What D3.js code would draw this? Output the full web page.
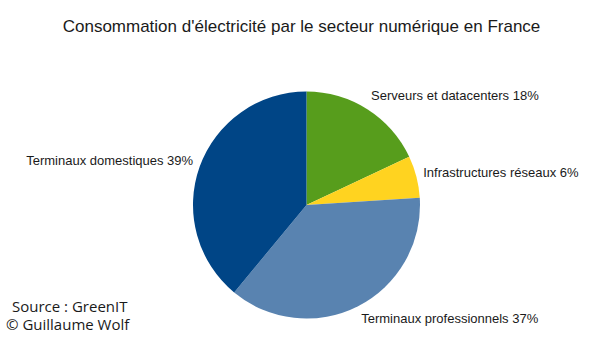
<!DOCTYPE html>
<html>
<head>
<meta charset="utf-8">
<script src="https://cdn.jsdelivr.net/npm/d3@7"></script>
<style>
  html, body { margin: 0; padding: 0; background: #fff; }
  svg { display: block; }
</style>
</head>
<body>
<svg id="chart" width="605" height="341"></svg>
<script>
// Electricity consumption shares of the digital sector in France
const categories = [
  "Serveurs et datacenters",
  "Infrastructures réseaux",
  "Terminaux professionnels",
  "Terminaux domestiques"
];
const values = [18, 6, 37, 39];
const colors = ["#579d1c", "#ffd320", "#5983b0", "#004586"];

const width = 605, height = 341;
const cx = 306.5, cy = 205, radius = 113.5;

const svg = d3.select("#chart");

svg.append("text")
  .attr("x", 301.5)
  .attr("y", 32)
  .attr("text-anchor", "middle")
  .style("font-family", "'Liberation Sans', Arial, sans-serif")
  .style("font-size", "17px")
  .style("fill", "#1a1a1a")
  .text("Consommation d'électricité par le secteur numérique en France");

const pie = d3.pie().sort(null).value(d => d);
const arcs = pie(values);
const arc = d3.arc().innerRadius(0).outerRadius(radius);

const g = svg.append("g").attr("transform", `translate(${cx},${cy})`);

g.selectAll("path")
  .data(arcs)
  .join("path")
  .attr("d", arc)
  .attr("fill", (d, i) => colors[i]);

// Labels placed just outside each slice, at its mid angle
const labelGap = 7;
const labelLift = 7.5;
g.selectAll("text.label")
  .data(arcs)
  .join("text")
  .attr("class", "label")
  .each(function (d, i) {
    const a = (d.startAngle + d.endAngle) / 2;
    const s = Math.sin(a), c = Math.cos(a);
    const px = (radius + labelGap) * s;
    const py = -(radius + labelGap) * c - labelLift * c - 1;
    d3.select(this)
      .attr("x", px)
      .attr("y", py)
      .attr("dy", "0.35em")
      .attr("text-anchor", s >= 0 ? "start" : "end")
      .text(`${categories[i]} ${values[i]}%`);
  })
  .style("font-family", "'Liberation Sans', Arial, sans-serif")
  .style("font-size", "13px")
  .style("fill", "#1a1a1a");

// Source / credit
const credit = svg.append("text")
  .style("font-family", "'Open Sans', 'Noto Sans', sans-serif")
  .style("font-size", "15px")
  .style("fill", "#1a1a1a");
credit.append("tspan").attr("x", 12).attr("y", 311.5).text("Source : GreenIT");
credit.append("tspan").attr("x", 6).attr("y", 329.5).text("© Guillaume Wolf");
</script>
</body>
</html>
